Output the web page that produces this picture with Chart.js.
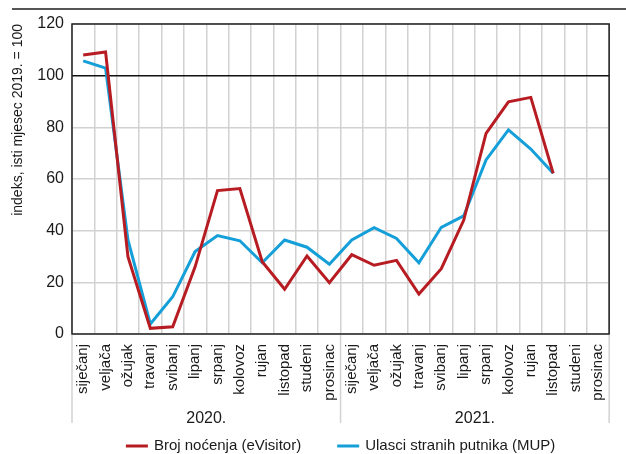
<!DOCTYPE html>
<html>
<head>
<meta charset="utf-8">
<script src="https://cdn.jsdelivr.net/npm/chart.js@4"></script>
<style>
  html, body { margin: 0; padding: 0; background: #fff; }
  #wrap { width: 626px; height: 454px; position: relative; }
</style>
</head>
<body>
<div id="wrap"><canvas id="chart"></canvas></div>
<script>
// mjeseci, dvije godine zaredom
const months = ['siječanj', 'veljača', 'ožujak', 'travanj', 'svibanj', 'lipanj', 'srpanj', 'kolovoz', 'rujan', 'listopad', 'studeni', 'prosinac'];
const years = ['2020.', '2021.'];
const labels = [...months, ...months];

// indeks, isti mjesec 2019. = 100
const nocenja = [108, 109.2, 29.9, 2.2, 2.8, 26, 55.5, 56.3, 28, 17.3, 30.2, 19.9,
                 30.7, 26.6, 28.5, 15.5, 25.3, 44, 77.7, 89.9, 91.6, 62.2, null, null];
const ulasci = [105.7, 102.9, 36.4, 3.9, 14.4, 31.9, 38.1, 36.1, 27.6, 36.4, 33.6, 27,
                36.4, 41.2, 37, 27.6, 41.3, 45.7, 67.4, 79, 71.6, 62.2, null, null];

const FONT = "'Liberation Sans Narrow', 'Arial Narrow', 'Liberation Sans', sans-serif";
const GRID = '#d2d2d2';
const TEXT = '#1a1a1a';

// okvir, produžene crte ispod osi, godine, legenda i crta na vrhu
const decorPlugin = {
    id: 'decor',
    afterDraw(chart) {
        const { ctx, chartArea: a, scales: { x } } = chart;
        ctx.save();
        // siva crta na vrhu
        ctx.strokeStyle = '#555';
        ctx.lineWidth = 2;
        ctx.beginPath(); ctx.moveTo(12, 9); ctx.lineTo(626, 9); ctx.stroke();

        // okvir grafa
        ctx.strokeStyle = '#222';
        ctx.lineWidth = 1.5;
        ctx.strokeRect(a.left, a.top, a.right - a.left, a.bottom - a.top);

        // produžene crte za godine
        const half = (x.getPixelForValue(11) + x.getPixelForValue(12)) / 2;
        const yEnd = 423;
        ctx.strokeStyle = GRID;
        ctx.lineWidth = 1.5;
        [a.left, half, a.right].forEach(px => {
            ctx.beginPath(); ctx.moveTo(px, a.bottom + 1); ctx.lineTo(px, yEnd); ctx.stroke();
        });

        // oznake godina
        ctx.fillStyle = TEXT;
        ctx.font = '16px ' + FONT;
        ctx.textAlign = 'center';
        ctx.textBaseline = 'middle';
        years.forEach((yr, i) => {
            const c = (x.getPixelForValue(i * 12) + x.getPixelForValue(i * 12 + 11)) / 2;
            ctx.fillText(yr, c, 419);
        });

        // legenda
        ctx.font = '15px ' + FONT;
        ctx.textAlign = 'left';
        const items = chart.data.datasets.map(ds => ({ text: ds.label, color: ds.borderColor, w: 28 + ctx.measureText(ds.label).width }));
        const gap = 36;
        const total = items.reduce((s, it) => s + it.w, 0) + gap * (items.length - 1);
        let px = (a.left + a.right) / 2 - total / 2;
        const ly = 446;
        items.forEach(it => {
            ctx.strokeStyle = it.color;
            ctx.lineWidth = 3;
            ctx.beginPath(); ctx.moveTo(px, ly); ctx.lineTo(px + 22, ly); ctx.stroke();
            ctx.fillStyle = TEXT;
            ctx.fillText(it.text, px + 28, ly);
            px += it.w + gap;
        });
        ctx.restore();
    }
};

new Chart(document.getElementById('chart'), {
    type: 'line',
    data: {
        labels,
        datasets: [
            { label: 'Broj noćenja (eVisitor)', data: nocenja, borderColor: '#b71c22', borderWidth: 3, pointRadius: 0, tension: 0 },
            { label: 'Ulasci stranih putnika (MUP)', data: ulasci, borderColor: '#149fd8', borderWidth: 3, pointRadius: 0, tension: 0 }
        ]
    },
    options: {
        responsive: true,
        maintainAspectRatio: false,
        animation: false,
        layout: { padding: { left: 0, right: 2, top: 24, bottom: 0 } },
        plugins: {
            legend: { display: false },
            tooltip: { enabled: false }
        },
        scales: {
            x: {
                offset: true,
                grid: { offset: true, color: GRID, lineWidth: 1.5, drawTicks: false },
                border: { display: false },
                ticks: { minRotation: 90, maxRotation: 90, padding: 10, color: TEXT, font: { family: FONT, size: 15 }, autoSkip: false },
                afterFit(scale) { scale.height = 120; }
            },
            y: {
                min: 0, max: 120,
                ticks: { stepSize: 20, color: TEXT, padding: 8, font: { family: FONT, size: 16 } },
                grid: {
                    drawTicks: false,
                    lineWidth: 1.5,
                    color: c => (c.tick && c.tick.value === 100) ? '#111' : GRID
                },
                border: { display: false },
                title: { display: true, align: 'end', text: 'indeks, isti mjesec 2019. = 100', color: TEXT, font: { family: FONT, size: 14 }, padding: { top: 10, bottom: 0 } },
                afterFit(scale) { scale.width = 72; }
            }
        }
    },
    plugins: [decorPlugin]
});
</script>
</body>
</html>
